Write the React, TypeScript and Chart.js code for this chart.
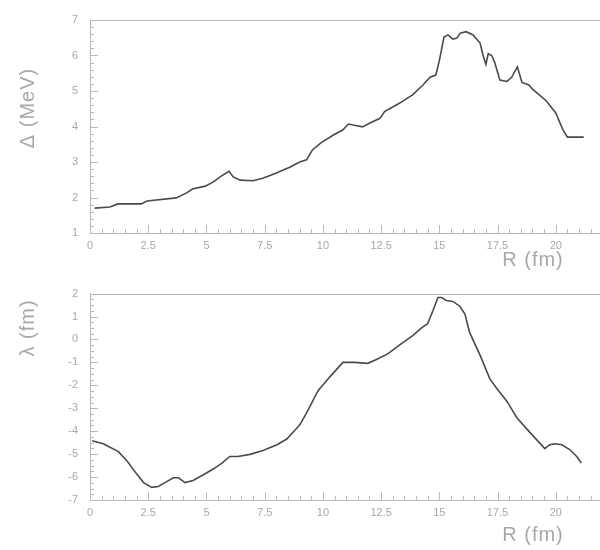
import React, { useEffect, useRef } from 'react';
import { Chart, registerables } from 'chart.js';

Chart.register(...registerables);

// ---------- data ----------
const rTop = [
  0.2, 0.85, 1.2, 2.2, 2.45, 3.7, 4.15, 4.4, 4.95, 5.3, 5.65, 5.97, 6.15, 6.45, 7.0, 7.45, 8.0, 8.6,
  9.0, 9.3, 9.55, 9.9, 10.45, 10.85, 11.1, 11.3, 11.7, 12.0, 12.45, 12.65, 13.3, 13.85, 14.3, 14.6,
  14.85, 15.0, 15.2, 15.37, 15.58, 15.75, 15.9, 16.15, 16.45, 16.75, 16.88, 17.0, 17.1, 17.25, 17.38,
  17.6, 17.9, 18.1, 18.35, 18.55, 18.85, 19.0, 19.6, 20.0, 20.3, 20.5, 21.2,
];
const deltaMeV = [
  1.7, 1.73, 1.82, 1.82, 1.9, 1.99, 2.13, 2.24, 2.32, 2.44, 2.61, 2.74, 2.58, 2.49, 2.47, 2.55, 2.69, 2.86,
  3.0, 3.06, 3.34, 3.53, 3.76, 3.9, 4.07, 4.04, 3.99, 4.09, 4.23, 4.42, 4.66, 4.89, 5.17, 5.39,
  5.45, 5.85, 6.52, 6.58, 6.46, 6.49, 6.63, 6.67, 6.58, 6.35, 6.0, 5.75, 6.05, 6.0, 5.8,
  5.31, 5.27, 5.38, 5.68, 5.24, 5.17, 5.05, 4.72, 4.38, 3.92, 3.7, 3.7,
];

const rBot = [
  0.09, 0.57, 1.22, 1.6, 2.0, 2.3, 2.65, 2.93, 3.22, 3.58, 3.8, 4.08, 4.43, 4.87, 5.29, 5.67, 6.0, 6.35,
  6.87, 7.43, 8.03, 8.45, 8.8, 9.01, 9.3, 9.8, 10.3, 10.86, 11.37, 11.93, 12.3, 12.8, 13.3, 13.87, 14.25,
  14.5, 14.72, 14.94, 15.1, 15.3, 15.58, 15.88, 16.1, 16.3, 16.74, 17.17, 17.47, 17.9, 18.33, 18.88,
  19.53, 19.74, 19.96, 20.26, 20.6, 20.9, 21.1,
];
const lambdaFm = [
  -4.42, -4.55, -4.89, -5.31, -5.86, -6.24, -6.45, -6.41, -6.24, -6.03, -6.03, -6.24, -6.15, -5.9, -5.65,
  -5.39, -5.1, -5.1, -5.01, -4.84, -4.59, -4.34, -3.96, -3.72, -3.2, -2.22, -1.63, -1.0, -1.0, -1.04,
  -0.87, -0.62, -0.24, 0.18, 0.52, 0.69, 1.24, 1.83, 1.83, 1.7, 1.66, 1.45, 1.11, 0.31, -0.66, -1.72,
  -2.14, -2.69, -3.41, -4.04, -4.76, -4.59, -4.55, -4.59, -4.8, -5.1, -5.39,
];

const xTickValues = [0, 2.5, 5, 7.5, 10, 12.5, 15, 17.5, 20];
const topYTickValues = [1, 2, 3, 4, 5, 6, 7];
const botYTickValues = [-7, -6, -5, -4, -3, -2, -1, 0, 1, 2];

const xTitle = 'R (fm)';
const topYTitle = 'Δ (MeV)';
const botYTitle = 'λ (fm)';

// ---------- styles ----------
const FONT = '"Liberation Sans", Arial, Helvetica, sans-serif';
const AXIS = '#b8b8b8';
const TEXT = '#a8a8a8';
const LINE = '#4a4a4a';
const X_MAX = 21.9;

const decorPlugin = {
  id: 'decor',
  afterDraw(chart: any, _args: any, opts: any) {
    const ctx = chart.ctx;
    const xs = chart.scales.x;
    const ys = chart.scales.y;
    const a = chart.chartArea;
    ctx.save();
    ctx.strokeStyle = AXIS;
    ctx.lineWidth = 1;
    ctx.beginPath();
    // top frame line
    ctx.moveTo(a.left, Math.round(a.top) + 0.5);
    ctx.lineTo(a.right, Math.round(a.top) + 0.5);
    // x ticks (inside)
    const nx = Math.round((xs.max - xs.min) / opts.xMinor);
    for (let i = 0; i <= nx; i++) {
      const v = xs.min + i * opts.xMinor;
      const px = Math.round(xs.getPixelForValue(v)) + 0.5;
      const major = Math.abs(v / 2.5 - Math.round(v / 2.5)) < 1e-6;
      const len = major ? 8 : 4;
      ctx.moveTo(px, a.bottom);
      ctx.lineTo(px, a.bottom - len);
    }
    // y ticks (inside)
    const ny = Math.round((ys.max - ys.min) / opts.yMinor);
    for (let i = 0; i <= ny; i++) {
      const v = ys.min + i * opts.yMinor;
      const py = Math.round(ys.getPixelForValue(v)) + 0.5;
      const major = Math.abs(v - Math.round(v)) < 1e-6;
      const len = major ? 8 : 4;
      ctx.moveTo(a.left, py);
      ctx.lineTo(a.left + len, py);
    }
    ctx.stroke();

    // titles
    ctx.fillStyle = TEXT;
    ctx.font = `20px ${FONT}`;
    ctx.textAlign = 'center';
    ctx.textBaseline = 'middle';
    (ctx as any).letterSpacing = '1px';
    ctx.fillText(opts.xTitle, opts.xTitleX, opts.xTitleY);
    ctx.translate(opts.yTitleX, opts.yTitleY);
    ctx.rotate(-Math.PI / 2);
    ctx.fillText(opts.yTitle, 0, 0);
    ctx.restore();
  },
};

function makeConfig(p: {
  xs: number[];
  ys: number[];
  yMin: number;
  yMax: number;
  yTicks: number[];
  yMinor: number;
  topPad: number;
  bottomH: number;
  yTitle: string;
  yTitleY: number;
}): any {
  const tickFont = { family: FONT, size: 11 };
  return {
    type: 'line',
    data: {
      datasets: [
        {
          data: p.xs.map((x, i) => ({ x, y: p.ys[i] })),
          borderColor: LINE,
          borderWidth: 1.6,
          pointRadius: 0,
          tension: 0,
          fill: false,
        },
      ],
    },
    options: {
      animation: false,
      responsive: false,
      maintainAspectRatio: false,
      layout: { padding: { top: p.topPad, right: 0, left: 0, bottom: 0 } },
      plugins: {
        legend: { display: false },
        tooltip: { enabled: false },
        decor: {
          xMinor: 0.5,
          yMinor: p.yMinor,
          xTitle,
          xTitleX: 533,
          xTitleY: p.topPad + (p.yMax - p.yMin >= 0 ? 0 : 0) + 0,
          yTitle: p.yTitle,
          yTitleX: 28,
          yTitleY: p.yTitleY,
        },
      },
      scales: {
        x: {
          type: 'linear',
          min: 0,
          max: X_MAX,
          afterBuildTicks: (s: any) => {
            s.ticks = xTickValues.map((v) => ({ value: v }));
          },
          afterFit: (s: any) => {
            s.height = p.bottomH;
          },
          grid: { drawOnChartArea: false, drawTicks: false },
          border: { color: AXIS, width: 1 },
          ticks: {
            padding: 6,
            color: TEXT,
            font: tickFont,
            maxRotation: 0,
            autoSkip: false,
            callback: (v: any) => String(v),
          },
        },
        y: {
          type: 'linear',
          min: p.yMin,
          max: p.yMax,
          afterBuildTicks: (s: any) => {
            s.ticks = p.yTicks.map((v) => ({ value: v }));
          },
          afterFit: (s: any) => {
            s.width = 90;
          },
          grid: { drawOnChartArea: false, drawTicks: false },
          border: { color: AXIS, width: 1 },
          ticks: {
            padding: 12,
            color: TEXT,
            font: tickFont,
            autoSkip: false,
            callback: (v: any) => String(v),
          },
        },
      },
    },
    plugins: [decorPlugin],
  };
}

function Panel(props: { cfg: any; top: number }) {
  const ref = useRef<HTMLCanvasElement | null>(null);
  useEffect(() => {
    if (!ref.current) return;
    const chart = new Chart(ref.current, props.cfg);
    return () => chart.destroy();
  }, [props.cfg]);
  return (
    <div style={{ position: 'absolute', left: 0, top: props.top, width: 600, height: 275 }}>
      <canvas ref={ref} width={600} height={275} style={{ width: 600, height: 275, display: 'block' }} />
    </div>
  );
}

const topCfg = (() => {
  const c = makeConfig({
    xs: rTop,
    ys: deltaMeV,
    yMin: 1,
    yMax: 7,
    yTicks: topYTickValues,
    yMinor: 0.2,
    topPad: 20,
    bottomH: 42,
    yTitle: topYTitle,
    yTitleY: 108,
  });
  c.options.plugins.decor.xTitleY = 260;
  return c;
})();

const botCfg = (() => {
  const c = makeConfig({
    xs: rBot,
    ys: lambdaFm,
    yMin: -7,
    yMax: 2,
    yTicks: botYTickValues,
    yMinor: 0.25,
    topPad: 12,
    bottomH: 50,
    yTitle: botYTitle,
    yTitleY: 53,
  });
  c.options.plugins.decor.xTitleY = 260;
  return c;
})();

export default function App() {
  return (
    <div style={{ position: 'absolute', left: 0, top: 0, width: 600, height: 550, background: '#fff' }}>
      <Panel cfg={topCfg} top={0} />
      <Panel cfg={botCfg} top={275} />
    </div>
  );
}
